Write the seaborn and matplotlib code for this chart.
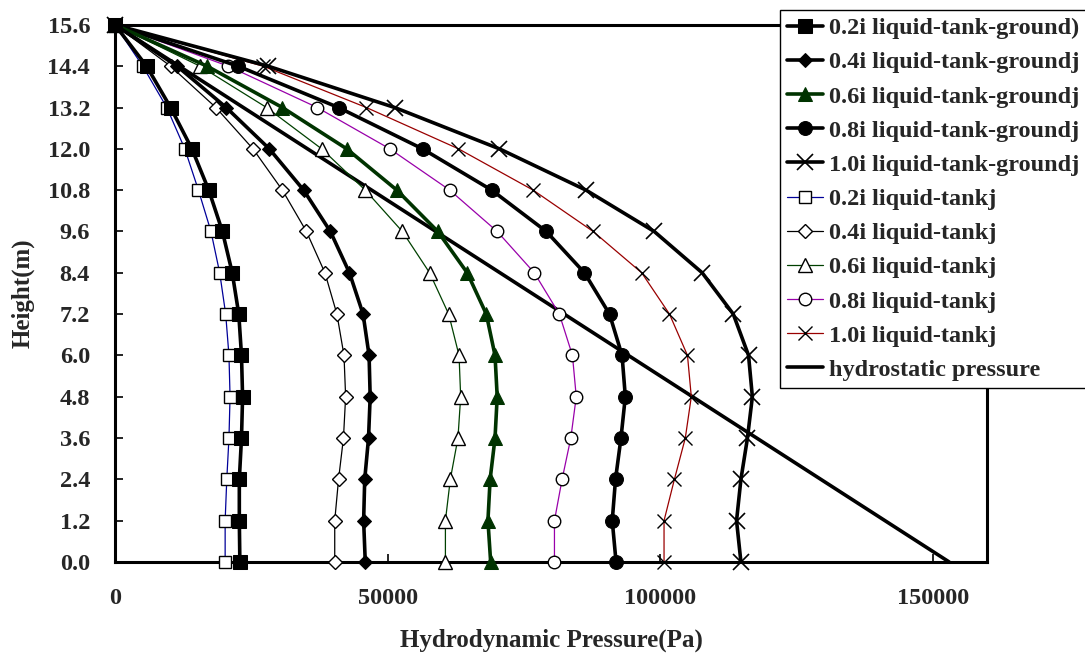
import matplotlib
matplotlib.use('Agg')
import matplotlib.pyplot as plt
import numpy as np
import pandas as pd
import seaborn as sns

# heights (m), bottom to top
heights = [0.0, 1.2, 2.4, 3.6, 4.8, 6.0, 7.2, 8.4, 9.6, 10.8, 12.0, 13.2, 14.4, 15.6]

# hydrodynamic pressure (Pa)
ground_02 = [22900, 22800, 22800, 23200, 23400, 23200, 22700, 21500, 19700, 17200, 14100, 10200, 5800, 0]
ground_04 = [45900, 45600, 45800, 46500, 46800, 46600, 45500, 43000, 39500, 34600, 28300, 20400, 11400, 0]
ground_06 = [68900, 68400, 68800, 69700, 70100, 69700, 68100, 64600, 59200, 51700, 42500, 30700, 16900, 0]
ground_08 = [91900, 91200, 91800, 92800, 93600, 93000, 90700, 86100, 79100, 69100, 56400, 41000, 22600, 0]
ground_10 = [114800, 114000, 114800, 116000, 116900, 116200, 113400, 107700, 98900, 86400, 70500, 51300, 28100, 0]

tank_02 = [20200, 20200, 20500, 20900, 21100, 20900, 20300, 19200, 17600, 15300, 12800, 9500, 5100, 0]
tank_04 = [40300, 40300, 41000, 41900, 42300, 42000, 40700, 38500, 35100, 30700, 25300, 18500, 10200, 0]
tank_06 = [60600, 60600, 61500, 62900, 63400, 63100, 61200, 57700, 52700, 45900, 37900, 27800, 15600, 0]
tank_08 = [80600, 80600, 82000, 83600, 84600, 83900, 81500, 76900, 70100, 61400, 50400, 37100, 20800, 0]
tank_10 = [100700, 100700, 102600, 104600, 105700, 105000, 101700, 96600, 87700, 76700, 63000, 46100, 27200, 0]

hydro_height = [0.0, 15.6]
hydro_pressure = [153000, 0]

labels = [
    '0.2i liquid-tank-ground)', '0.4i liquid-tank-groundj', '0.6i liquid-tank-groundj',
    '0.8i liquid-tank-groundj', '1.0i liquid-tank-groundj',
    '0.2i liquid-tankj', '0.4i liquid-tankj', '0.6i liquid-tankj',
    '0.8i liquid-tankj', '1.0i liquid-tankj',
]

series = [ground_02, ground_04, ground_06, ground_08, ground_10,
          tank_02, tank_04, tank_06, tank_08, tank_10]

styles = [
    dict(color='black', lw=2.6, marker='s', ms=10, mfc='black', mec='black'),
    dict(color='black', lw=2.6, marker='D', ms=7, mfc='black', mec='black'),
    dict(color='#003300', lw=2.6, marker='^', ms=10, mfc='#003300', mec='#003300'),
    dict(color='black', lw=2.6, marker='o', ms=10, mfc='black', mec='black'),
    dict(color='black', lw=2.6, marker='x', ms=11, mew=1.2, mec='black'),
    dict(color='#000099', lw=0.9, marker='s', ms=9, mfc='white', mec='black', mew=1.0),
    dict(color='black', lw=0.9, marker='D', ms=7, mfc='white', mec='black', mew=1.0),
    dict(color='#004000', lw=0.9, marker='^', ms=10, mfc='white', mec='black', mew=1.0),
    dict(color='#9900AA', lw=0.9, marker='o', ms=9, mfc='white', mec='black', mew=1.0),
    dict(color='#990000', lw=0.9, marker='x', ms=10, mew=1.0, mec='black'),
]

sns.set_style('ticks')
plt.rcParams['font.family'] = ['Liberation Serif', 'DejaVu Serif']
plt.rcParams['font.weight'] = 'bold'

fig = plt.figure(figsize=(10.85, 6.55), dpi=100)
ax = fig.add_axes([0.106, 0.142, 0.804, 0.820])

for i, (vals, lab, st) in enumerate(zip(series, labels, styles)):
    df = pd.DataFrame({'pressure': vals, 'height': heights})
    sns.lineplot(data=df, x='pressure', y='height', sort=False, estimator=None,
                 ax=ax, label=lab, clip_on=False, zorder=3 - i * 0.05, **st)

hydro_df = pd.DataFrame({'pressure': hydro_pressure, 'height': hydro_height})
sns.lineplot(data=hydro_df, x='pressure', y='height', sort=False, estimator=None,
             ax=ax, color='black', lw=2.6, label='hydrostatic pressure', zorder=2)

ax.set_xlim(0, 160000)
ax.set_ylim(0, 15.6)
ax.set_xticks([0, 50000, 100000, 150000])
ax.set_xticklabels(['0', '50000', '100000', '150000'])
ax.set_yticks(heights)
ax.set_yticklabels([f'{v:.1f}' for v in heights])
ax.tick_params(axis='both', direction='in', length=6, width=1.2, labelsize=17.5, color='black')
ax.tick_params(axis='x', pad=19)
ax.tick_params(axis='y', pad=18)
for s in ax.spines.values():
    s.set_visible(True)
    s.set_linewidth(2.2)
    s.set_color('black')
    s.set_zorder(1)

ax.set_xlabel('Hydrodynamic Pressure(Pa)', fontsize=18, fontweight='bold', labelpad=14)
ax.set_ylabel('Height(m)', fontsize=18, fontweight='bold', labelpad=9)

leg = ax.legend(loc='upper left', bbox_to_anchor=(780 / 1085, 1 - 10 / 655),
                bbox_transform=fig.transFigure, frameon=True, fancybox=False,
                fontsize=17.5, handlelength=1.45, handletextpad=0.25,
                labelspacing=0.5, borderpad=0.3, borderaxespad=0)
leg.get_frame().set_edgecolor('black')
leg.get_frame().set_linewidth(1.0)
leg.get_frame().set_alpha(1.0)
leg.set_zorder(10)
for t in leg.get_texts():
    t.set_fontweight('bold')

fig.savefig('out.png', dpi=100)
